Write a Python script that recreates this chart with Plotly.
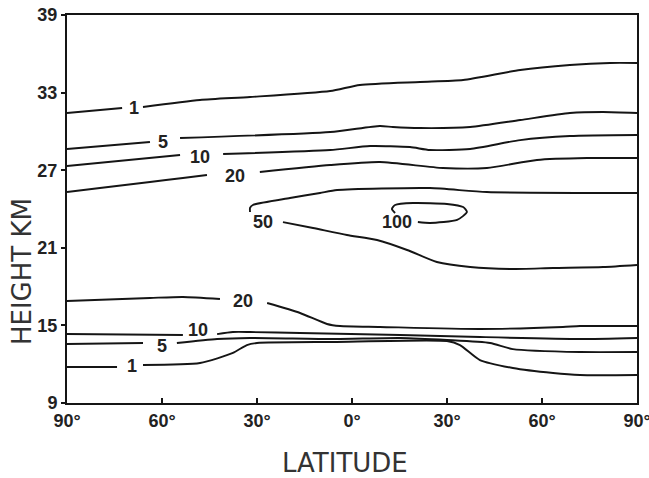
import plotly.graph_objects as go

N = None
# ---- contour lines (latitude deg: -90 = left 90°, +90 = right 90°; height km) ----
c1_up_lat = [-90, -72.6, N, -66.0, -48.0, -32.2, -6.9, 2.5, 21.5, 35.1, 53.1, 68.8, 81.5, 90]
c1_up_h   = [31.42, 31.81, N, 31.89, 32.43, 32.66, 33.12, 33.59, 33.82, 33.97, 34.75, 35.13, 35.29, 35.29]

c5_up_lat = [-90, -63.8, N, -54.3, -6.9, 8.8, 12.9, 21.5, 37.3, 53.1, 68.8, 79.3, 90]
c5_up_h   = [28.64, 29.18, N, 29.49, 29.95, 30.42, 30.34, 30.26, 30.34, 30.88, 31.42, 31.50, 31.42]

c10_up_lat = [-90, -54.3, N, -40.7, -6.9, 5.7, 18.3, 24.6, 37.3, 53.1, 68.8, 90]
c10_up_h   = [27.32, 28.17, N, 28.25, 28.56, 28.87, 28.79, 28.56, 28.64, 29.33, 29.64, 29.72]

c20_up_lat = [-90, -79.6, -63.8, -53.4, -45.8, N, -29.1, -6.9, 8.8, 28.7, 42.6, 58.4, 74.2, 90]
c20_up_h   = [25.31, 25.62, 26.09, 26.40, 26.63, N, 26.86, 27.40, 27.63, 27.17, 27.17, 27.79, 27.94, 27.94]

c50_lat = [90, 42.6, 24.6, -4.7, -10.1, -19.6, -31.3, -32.2, -32.2, N,
           -21.8, -12.3, -1.6, 7.9, 17.4, 26.8, 37.3, 49.9, 63.5, 79.3, 90]
c50_h   = [25.24, 25.31, 25.62, 25.47, 25.24, 24.85, 24.31, 24.08, 23.77, N,
           22.99, 22.53, 21.99, 21.60, 20.83, 19.90, 19.51, 19.36, 19.44, 19.51, 19.67]

c100_lat = [20.8, 24.6, 33.2, 36.3, 35.1, 30.0, 19.3, 13.6, 12.6, 13.6]
c100_h   = [22.99, 22.92, 23.15, 23.77, 24.15, 24.39, 24.46, 24.31, 24.00, 23.69]

c20_lo_lat = [-90, -63.8, -53.4, -41.7, N, -26.8, -16.4, -7.9, -3.8, 8.8, 40.4, 66.6, 72.0, 90]
c20_lo_h   = [16.89, 17.12, 17.20, 17.04, N, 16.73, 15.96, 15.11, 14.95, 14.88, 14.72, 14.88, 14.95, 14.95]

c10_lo_lat = [-90, -53.4, N, -42.6, -37.6, -32.2, -16.4, 15.2, 40.4, 72.0, 90]
c10_lo_h   = [14.33, 14.26, N, 14.33, 14.49, 14.49, 14.41, 14.26, 14.10, 13.95, 14.03]

c5_lo_lat = [-90, -66.0, N, -55.3, -42.6, -32.2, -6.0, 15.2, 30.0, 43.6, 50.8, 72.0, 90]
c5_lo_h   = [13.56, 13.64, N, 13.64, 13.95, 14.03, 13.95, 14.03, 13.87, 13.64, 13.17, 12.94, 12.94]

c1_lo_lat = [-90, -74.2, N, -66.0, -48.0, -37.6, -33.2, -30.0, -6.0, 30.0, 34.1, 40.4, 50.8, 63.5, 72.0, 90]
c1_lo_h   = [11.78, 11.78, N, 11.94, 12.09, 12.87, 13.48, 13.64, 13.72, 13.79, 13.48, 12.32, 11.71, 11.32, 11.16, 11.16]

# ---- contour labels ----
label_text = ["1", "5", "10", "20", "50", "100", "20", "10", "5", "1"]
label_lat  = [-68.9, -59.7, -48.0, -36.9, -28.1, 14.2, -34.4, -48.6, -60.0, -69.5]
label_h    = [31.81, 29.18, 28.02, 26.55, 22.99, 22.99, 16.89, 14.64, 13.41, 11.86]

# ---- axes ----
x_tick_vals = [-90, -60, -30, 0, 30, 60, 90]
x_tick_text = ["90°", "60°", "30°", "0°", "30°", "60°", "90°"]
y_tick_vals = [9, 15, 21, 27, 33, 39]

INK = "#151515"
fig = go.Figure()
lines = [
    (c1_up_lat, c1_up_h), (c5_up_lat, c5_up_h), (c10_up_lat, c10_up_h), (c20_up_lat, c20_up_h),
    (c50_lat, c50_h), (c100_lat, c100_h),
    (c20_lo_lat, c20_lo_h), (c10_lo_lat, c10_lo_h), (c5_lo_lat, c5_lo_h), (c1_lo_lat, c1_lo_h),
]
for xs, ys in lines:
    fig.add_trace(go.Scatter(x=xs, y=ys, mode="lines", connectgaps=False,
                             line=dict(color=INK, width=1.9, shape="spline", smoothing=0.6),
                             hoverinfo="skip", showlegend=False, cliponaxis=False))

labfont = dict(family="Liberation Sans, Arial, sans-serif", size=18, color="#222", weight="bold")
for t, lx, ly in zip(label_text, label_lat, label_h):
    fig.add_annotation(x=lx, y=ly, text=t, showarrow=False, xref="x", yref="y",
                       xanchor="center", yanchor="middle", font=labfont)

titlefont = dict(family="DejaVu Sans, sans-serif", size=26, color="#333")
fig.add_annotation(text="LATITUDE", xref="paper", yref="paper", x=0.487, y=-0.155,
                   xanchor="center", yanchor="middle", showarrow=False, font=titlefont)
fig.add_annotation(text="HEIGHT KM", xref="paper", yref="paper", x=-0.079, y=0.34,
                   xanchor="center", yanchor="middle", showarrow=False, textangle=-90,
                   font=titlefont)

tickfont = dict(family="Liberation Sans, Arial, sans-serif", size=18, color="#222", weight="bold")
fig.update_xaxes(range=[-90, 90], tickvals=x_tick_vals, ticktext=x_tick_text,
                 ticks="inside", ticklen=5, tickwidth=2, tickcolor=INK,
                 showline=True, linewidth=2, linecolor=INK, mirror=True,
                 showgrid=False, zeroline=False, tickfont=tickfont, automargin=False,
                 ticklabeloverflow="allow")
fig.update_yaxes(range=[9, 39], tickvals=y_tick_vals,
                 ticks="outside", ticklen=4, tickwidth=2, tickcolor=INK,
                 showline=True, linewidth=2, linecolor=INK, mirror=True,
                 showgrid=False, zeroline=False, tickfont=tickfont, automargin=False,
                 ticklabeloverflow="allow")

fig.update_layout(width=649, height=478, margin=dict(l=67, r=12, t=15, b=75),
                  paper_bgcolor="white", plot_bgcolor="white")
# remove the default 8px page margin so the figure fills the window exactly
fig.write_html("out.html", config={"displayModeBar": False},
               post_script="document.body.style.margin='0';")
